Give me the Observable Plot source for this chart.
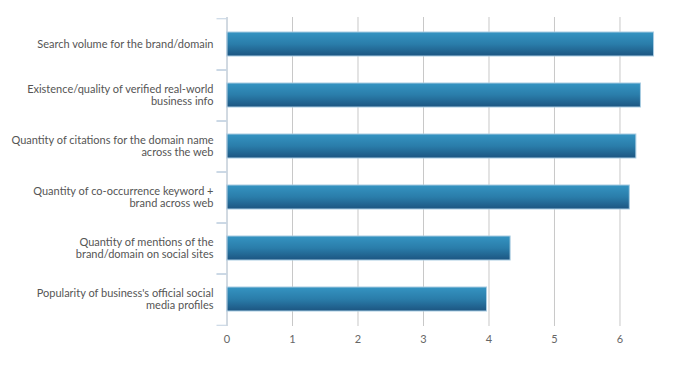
<!DOCTYPE html>
<html>
<head>
<meta charset="utf-8">
<script src="https://cdn.jsdelivr.net/npm/d3@7"></script>
<script src="https://cdn.jsdelivr.net/npm/@observablehq/plot@0.6"></script>
<style>
  html, body { margin: 0; padding: 0; background: #fff; }
  #chart svg { display: block; }
</style>
</head>
<body>
<div id="chart"></div>
<script>
const categories = [
  "Search volume for the brand/domain",
  "Existence/quality of verified real-world business info",
  "Quantity of citations for the domain name across the web",
  "Quantity of co-occurrence keyword + brand across web",
  "Quantity of mentions of the brand/domain on social sites",
  "Popularity of business's official social media profiles"
];
const labelLines = [
  "Search volume for the brand/domain",
  "Existence/quality of verified real-world\nbusiness info",
  "Quantity of citations for the domain name\nacross the web",
  "Quantity of co-occurrence keyword +\nbrand across web",
  "Quantity of mentions of the\nbrand/domain on social sites",
  "Popularity of business's official social\nmedia profiles"
];
const values = [6.52, 6.32, 6.25, 6.15, 4.33, 3.97];
const xTicks = [0, 1, 2, 3, 4, 5, 6];

const data = categories.map((c, i) => ({category: c, value: values[i], label: labelLines[i]}));

const W = 679, H = 365;
const mT = 17, mB = 39, mL = 226.5, mR = 10.4;
const step = (H - mT - mB) / categories.length;
const font = "Lato, 'Open Sans', sans-serif";

const chart = Plot.plot({
  width: W,
  height: H,
  marginTop: mT,
  marginBottom: mB,
  marginLeft: mL,
  marginRight: mR,
  style: {fontFamily: font, fontSize: "11px", background: "#fff", overflow: "visible"},
  x: {domain: [0, 6.75], ticks: xTicks},
  y: {domain: categories, paddingInner: 0.534, paddingOuter: 0.267},
  marks: [
    Plot.gridX(xTicks, {stroke: "#c8c8c8", strokeOpacity: 1, strokeWidth: 1}),
    Plot.axisX({ticks: xTicks, tickSize: 0, tickPadding: 9, fill: "#666", fontSize: 11, tickFormat: d3.format("d"), label: null}),
    Plot.axisY({tickSize: 10, dy: -step / 2, stroke: "#c0d0e0", tickFormat: () => "", label: null}),
    Plot.axisY({tickSize: 10, dy: step / 2, stroke: "#c0d0e0", tickFormat: () => "", label: null}),
    Plot.barX(data, {x: "value", y: "category", fill: "url(#barGrad)", stroke: "#a8cce2", strokeWidth: 1}),
    Plot.ruleX([0], {stroke: "#c0d0e0", strokeWidth: 1}),
    Plot.text(data, {x: 0, y: "category", text: "label", dx: -13.5, textAnchor: "end", lineHeight: 1.08, fill: "#555", fontSize: 11})
  ]
});

const svg = d3.select(chart);
const defs = svg.insert("defs", ":first-child");
const g = defs.append("linearGradient").attr("id", "barGrad").attr("x1", 0).attr("y1", 0).attr("x2", 0).attr("y2", 1);
g.append("stop").attr("offset", "0%").attr("stop-color", "#3594c2");
g.append("stop").attr("offset", "50%").attr("stop-color", "#2a7daa");
g.append("stop").attr("offset", "100%").attr("stop-color", "#1c5581");

document.getElementById("chart").appendChild(chart);
</script>
</body>
</html>
